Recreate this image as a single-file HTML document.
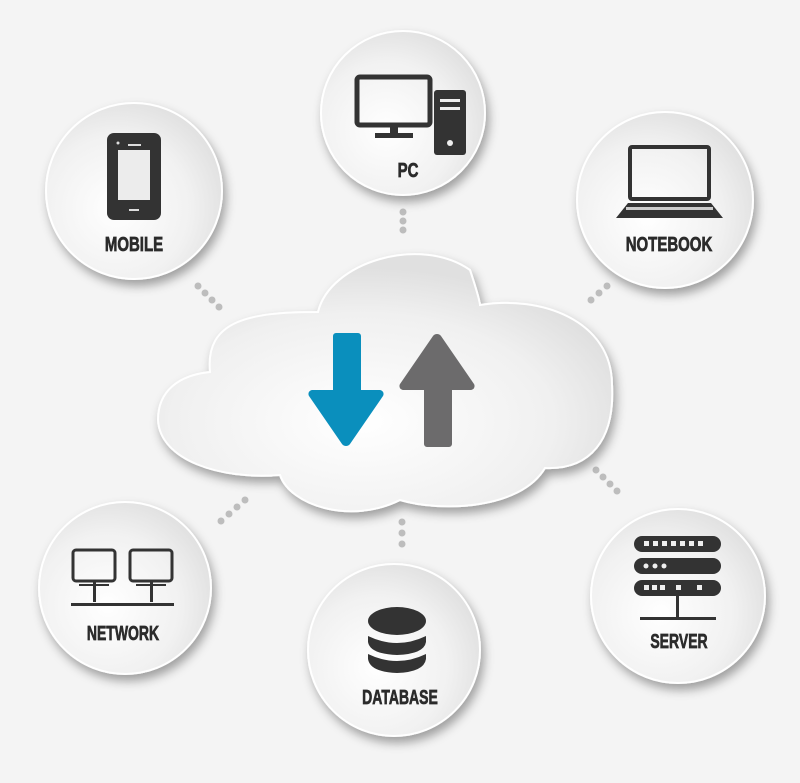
<!DOCTYPE html>
<html><head><meta charset="utf-8"><style>
html,body{margin:0;padding:0;background:#f4f4f4;}
svg{display:block}
text{font-family:"Liberation Sans Narrow","Liberation Sans",sans-serif;font-weight:bold;fill:#2b2b2b;stroke:#2b2b2b;stroke-width:0.7;text-anchor:middle}
</style></head><body>
<svg width="800" height="783" viewBox="0 0 800 783" xmlns="http://www.w3.org/2000/svg">
<defs>
<radialGradient id="cg" cx="0.4" cy="0.6" r="0.7">
<stop offset="0" stop-color="#ffffff"/><stop offset="0.6" stop-color="#f1f1f1"/><stop offset="1" stop-color="#dcdcdc"/></radialGradient>
<radialGradient id="kg" cx="0.45" cy="0.65" r="0.6">
<stop offset="0" stop-color="#ffffff"/><stop offset="0.7" stop-color="#f0f0f0"/><stop offset="1" stop-color="#e0e0e0"/></radialGradient>
<filter id="sh" x="-20%" y="-20%" width="150%" height="150%"><feDropShadow dx="3" dy="6" stdDeviation="5" flood-color="#000" flood-opacity="0.35"/></filter>
</defs>
<rect width="800" height="783" fill="#f4f4f4"/>
<g fill="#bdbdbd">
<circle cx="198" cy="286" r="3.5"/><circle cx="205" cy="293" r="3.5"/><circle cx="212" cy="300" r="3.5"/><circle cx="219" cy="307" r="3.5"/>
<circle cx="403" cy="212" r="3.5"/><circle cx="403" cy="221" r="3.5"/><circle cx="403" cy="230" r="3.5"/>
<circle cx="607" cy="286" r="3.5"/><circle cx="599" cy="293" r="3.5"/><circle cx="591" cy="300" r="3.5"/>
<circle cx="596" cy="470" r="3.5"/><circle cx="603" cy="477" r="3.5"/><circle cx="610" cy="484" r="3.5"/><circle cx="617" cy="491" r="3.5"/>
<circle cx="245" cy="500" r="3.5"/><circle cx="237" cy="507" r="3.5"/><circle cx="229" cy="514" r="3.5"/><circle cx="221" cy="521" r="3.5"/>
<circle cx="402" cy="522" r="3.5"/><circle cx="402" cy="533" r="3.5"/><circle cx="402" cy="544" r="3.5"/>
</g>
<g filter="url(#sh)">
<g fill="url(#kg)" stroke="#fff" stroke-width="2">
<path d="M210,372 C205,320 250,312 318,312 C330,262 420,235 470,270 C480,300 480,305 480,305 C540,295 612,320 612,385 C615,440 590,470 545,468 C520,510 440,512 400,500 C350,525 290,505 280,475 C220,480 160,460 158,420 C158,390 180,375 210,372 Z"/>
</g>
</g>
<path d="M336,333 h22 a3,3 0 0 1 3,3 v54 h19 a4,4 0 0 1 3,6 l-33,48 a5,5 0 0 1 -8,0 l-33,-48 a4,4 0 0 1 3,-6 h21 v-54 a3,3 0 0 1 3,-3 z" fill="#0a8fbd"/>
<path d="M427,447 h22 a3,3 0 0 0 3,-3 v-54 h19 a4,4 0 0 0 3,-6 l-33,-48 a5,5 0 0 0 -8,0 l-33,48 a4,4 0 0 0 3,6 h21 v54 a3,3 0 0 0 3,3 z" fill="#6c6b6c"/>
<g filter="url(#sh)" fill="url(#cg)" stroke="#fff" stroke-width="2">
<circle cx="134" cy="191" r="88"/>
<circle cx="403" cy="113" r="82"/>
<circle cx="665" cy="200" r="88"/>
<circle cx="125" cy="588" r="86"/>
<circle cx="394" cy="650" r="86"/>
<circle cx="678" cy="596" r="87"/>
</g>
<rect x="107" y="133" width="54" height="87" rx="7" fill="#333"/>
<rect x="118" y="150" width="32" height="50" fill="#ececec"/>
<rect x="128" y="144" width="13" height="2" fill="#ddd"/><rect x="129" y="209" width="10" height="2" fill="#ddd"/>
<circle cx="118" cy="143" r="1.5" fill="#ddd"/>
<text x="134" y="251" font-size="20" transform="translate(134 0) scale(0.75 1) translate(-134 0)">MOBILE</text>
<rect x="357" y="77" width="73" height="48" rx="3" fill="none" stroke="#333" stroke-width="5"/>
<rect x="390" y="124" width="8" height="10" fill="#333"/><rect x="375" y="133" width="38" height="5" fill="#333"/>
<rect x="434" y="90" width="32" height="65" rx="3" fill="#333"/>
<rect x="440" y="99" width="20" height="3" fill="#eee"/><rect x="440" y="107" width="20" height="3" fill="#eee"/>
<circle cx="450" cy="143" r="3" fill="#eee"/>
<text x="408" y="177" font-size="20" transform="translate(408 0) scale(0.75 1) translate(-408 0)">PC</text>
<rect x="630" y="147" width="79" height="52" rx="2" fill="none" stroke="#333" stroke-width="4"/>
<path d="M628,203 h83 l12,15 h-107 z" fill="#333"/>
<rect x="626" y="207" width="87" height="3" fill="#ccc"/>
<text x="669" y="251" font-size="20" transform="translate(669 0) scale(0.75 1) translate(-669 0)">NOTEBOOK</text>
<rect x="73" y="550" width="42" height="31" rx="3" fill="none" stroke="#333" stroke-width="3"/>
<rect x="130" y="550" width="42" height="31" rx="3" fill="none" stroke="#333" stroke-width="3"/>
<rect x="79" y="584" width="30" height="2" fill="#333"/><rect x="136" y="584" width="30" height="2" fill="#333"/>
<rect x="93" y="582" width="3" height="20" fill="#333"/><rect x="150" y="582" width="3" height="20" fill="#333"/>
<rect x="71" y="603" width="103" height="3" fill="#333"/>
<text x="123" y="640" font-size="20" transform="translate(123 0) scale(0.7 1) translate(-123 0)">NETWORK</text>
<ellipse cx="397" cy="621" rx="29" ry="14" fill="#333"/>
<path d="M368,636 q29,14 58,0 v6 q-2,12 -29,13 q-27,-1 -29,-13z" fill="#333"/>
<path d="M368,654 q29,14 58,0 v5 q-2,13 -29,14 q-27,-1 -29,-14z" fill="#333"/>
<text x="400" y="704" font-size="20" transform="translate(400 0) scale(0.7 1) translate(-400 0)">DATABASE</text>
<rect x="634" y="536" width="87" height="16" rx="8" fill="#333"/>
<rect x="634" y="558" width="87" height="16" rx="8" fill="#333"/>
<rect x="634" y="580" width="87" height="16" rx="8" fill="#333"/>
<g fill="#eee">
<rect x="644" y="541" width="5" height="5"/><rect x="653" y="541" width="5" height="5"/><rect x="662" y="541" width="5" height="5"/><rect x="671" y="541" width="5" height="5"/><rect x="680" y="541" width="5" height="5"/><rect x="689" y="541" width="5" height="5"/><rect x="698" y="541" width="5" height="5"/>
<circle cx="646" cy="566" r="2.5"/><circle cx="655" cy="566" r="2.5"/><circle cx="664" cy="566" r="2.5"/>
<rect x="644" y="585" width="5" height="5"/><rect x="652" y="585" width="5" height="5"/><rect x="660" y="585" width="5" height="5"/><rect x="676" y="585" width="5" height="5"/><rect x="697" y="585" width="5" height="5"/>
</g>
<rect x="676" y="596" width="3" height="22" fill="#333"/><rect x="640" y="617" width="76" height="3" fill="#333"/>
<text x="679" y="648" font-size="20" transform="translate(679 0) scale(0.7 1) translate(-679 0)">SERVER</text>
</svg>
</body></html>
